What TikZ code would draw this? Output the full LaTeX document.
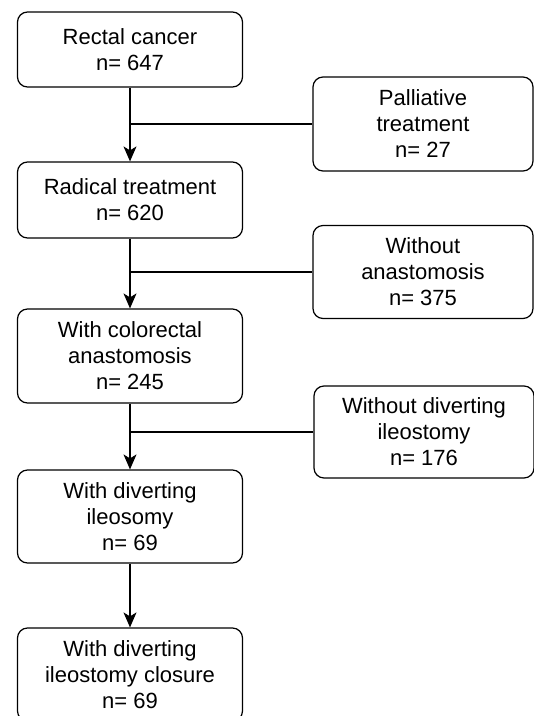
\documentclass[tikz,border=0pt]{standalone}
\usepackage{fontspec}
\setmainfont{Liberation Sans}
\usetikzlibrary{arrows.meta}

\begin{document}
\begin{tikzpicture}[x=1pt,y=-1pt,
    stage/.style={draw, line width=1.2pt, rounded corners=10pt, align=center,
        minimum width=225pt, inner sep=0pt, font=\fontsize{22}{26}\selectfont},
    drop/.style={stage, minimum width=220pt},
    link/.style={line width=1.2pt},
    flow/.style={link, -{Stealth[length=15pt,width=13pt,inset=4pt]}}]
    \useasboundingbox (0,0) rectangle (534,716);
    % main column
    \node [stage, minimum height=75pt] (cancer) at (130,49.5) {Rectal cancer\\n= 647};
    \node [stage, minimum height=76pt] (radical) at (130,200) {Radical treatment\\n= 620};
    \node [stage, minimum height=94pt] (anast) at (130,356) {With colorectal\\anastomosis\\n= 245};
    \node [stage, minimum height=93pt] (ileo) at (130,516.5) {With diverting\\ileosomy\\n= 69};
    \node [stage, minimum height=93pt] (closure) at (130,674.5) {With diverting\\ileostomy closure\\n= 69};
    % excluded
    \node [drop, minimum height=94pt] (palliative) at (423,124) {Palliative\\treatment\\n= 27};
    \node [drop, minimum height=93pt] (noanast) at (423,272) {Without\\anastomosis\\n= 375};
    \node [drop, minimum height=92pt] (noileo) at (424,432) {Without diverting\\ileostomy\\n= 176};
    \coordinate (j1) at (130,124);
    \coordinate (j2) at (130,272);
    \coordinate (j3) at (130,432);
    \draw [flow] (cancer) -- (radical);
    \draw [flow] (radical) -- (anast);
    \draw [flow] (anast) -- (ileo);
    \draw [flow] (ileo) -- (closure);
    \draw [link] (j1) -- (palliative.west);
    \draw [link] (j2) -- (noanast.west);
    \draw [link] (j3) -- (noileo.west);
\end{tikzpicture}
\end{document}
